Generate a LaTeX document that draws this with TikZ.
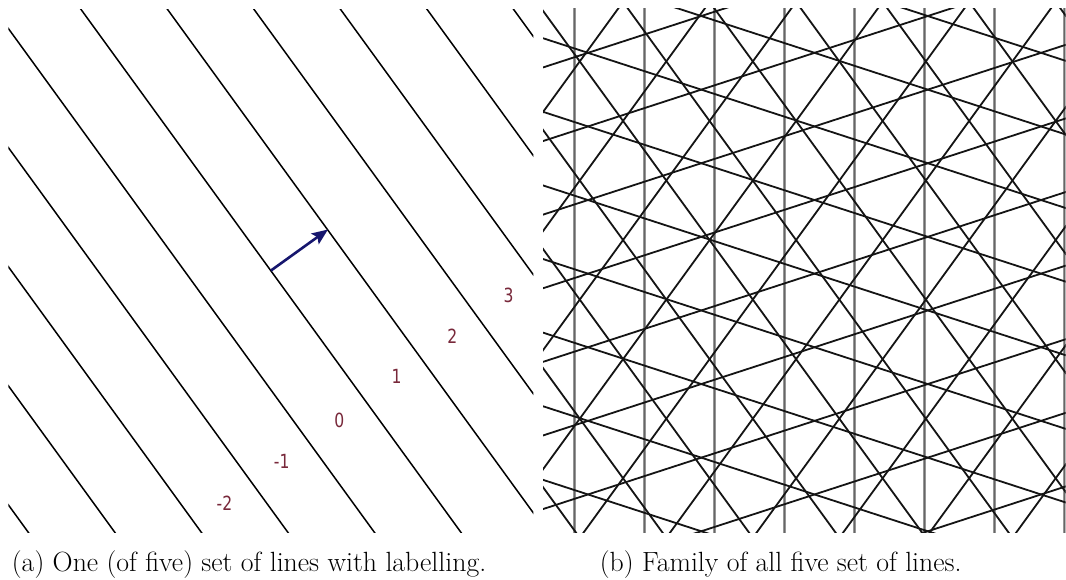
\documentclass[tikz,border=0pt]{standalone}
\usepackage{fontspec}
\newfontfamily\labfont{DejaVu Sans}
\usetikzlibrary{arrows.meta}
\definecolor{labred}{RGB}{120,40,58}
\definecolor{arrowblue}{RGB}{22,22,110}
\definecolor{vgray}{RGB}{150,150,150}
\tikzset{
  lineA/.style={black, line width=1.5pt},
  gridline/.style={black!92, line width=1.8pt},
  vband/.style={vgray, line width=2.8pt},
  vcore/.style={black!60, line width=0.9pt},
  numlabel/.style={text=labred, font=\labfont\fontsize{19.5}{22}\selectfont, inner sep=0pt},
  captiontext/.style={font=\fontsize{27.8}{32}\selectfont, inner sep=0pt, anchor=base west},
  normalarrow/.style={arrowblue, line width=2.6pt, -{Stealth[length=16pt,width=13pt,inset=3pt]}},
}
\newcommand{\narrowlab}[1]{\scalebox{0.8}[1]{#1}}
\begin{document}
\begin{tikzpicture}[x=1pt,y=-1pt]
\useasboundingbox (0,0) rectangle (1066,580);
\fill[white] (0,0) rectangle (1066,580);
% ---------- left panel: one set of lines ----------
\begin{scope}
  \clip (8.3,9.5) rectangle (533.3,532.7);
  \foreach \k in {-10,...,10} {
    \pgfmathsetmacro\r{-10+70*\k}
    \draw[lineA] ({\r*0.809017+1500*0.587785},{-\r*0.587785+1500*0.809017})
              -- ({\r*0.809017-1500*0.587785},{-\r*0.587785-1500*0.809017});
  }
\end{scope}
\coordinate (tail) at (271,270.5);
\coordinate (tip) at (328,229.5);
\draw[normalarrow] (tail) -- (tip);
\node[numlabel] (l3) at (508.5,295.5) {\narrowlab{3}};
\node[numlabel] (l2) at (452.3,336) {\narrowlab{2}};
\node[numlabel] (l1) at (396.7,376.7) {\narrowlab{1}};
\node[numlabel] (l0) at (339.3,420.7) {\narrowlab{0}};
\node[numlabel] (lm1) at (281.7,461.7) {\narrowlab{-1}};
\node[numlabel] (lm2) at (224.5,503.3) {\narrowlab{-2}};
% ---------- right panel: pentagrid ----------
\begin{scope}
  \clip (543,9) rectangle (1065.5,532.7);
  \foreach \i in {0,...,7} {
    \draw[vband] ({574.7+70*\i},0) -- ({574.7+70*\i},540);
    \draw[vcore] ({574.7+70*\i},0) -- ({574.7+70*\i},540);
  }
  \foreach \ang/\c in {36/12.95,72/61.45,108/48.05,144/54.85} {
    \foreach \k in {-22,...,22} {
      \pgfmathsetmacro\r{\c+70*\k}
      \draw[gridline] ({\r*cos(\ang)+2500*sin(\ang)},{-\r*sin(\ang)+2500*cos(\ang)})
                   -- ({\r*cos(\ang)-2500*sin(\ang)},{-\r*sin(\ang)-2500*cos(\ang)});
    }
  }
\end{scope}
% ---------- captions ----------
\node[captiontext] (capa) at (11.7,571.7) {(a) One (of five) set of lines with labelling.};
\node[captiontext] (capb) at (599.7,571.7) {(b) Family of all five set of lines.};
\end{tikzpicture}
\end{document}
